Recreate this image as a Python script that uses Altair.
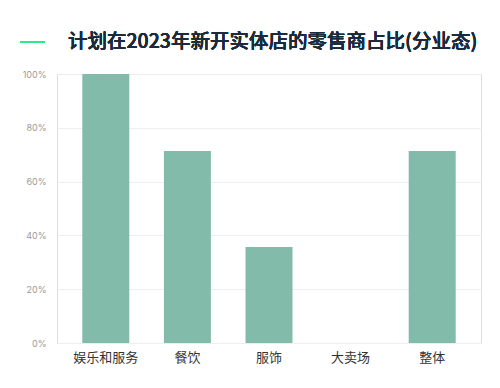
import altair as alt
import pandas as pd

categories = ["娱乐和服务", "餐饮", "服饰", "大卖场", "整体"]
values = [1.0, 0.714, 0.357, 0.0, 0.714]
title_text = "计划在2023年新开实体店的零售商占比(分业态)"

df = pd.DataFrame({"cat": categories, "val": values})

FONT = "Noto Sans CJK SC"

bars = alt.Chart(df).mark_bar(color="#83bbab").encode(
    x=alt.X("cat:N", sort=categories, title=None,
            scale=alt.Scale(paddingInner=0.424, paddingOuter=0.31),
            axis=alt.Axis(labelAngle=0, labelFont=FONT, labelFontSize=13,
                          labelColor="#333333", labelPadding=8, ticks=False,
                          domain=False, grid=False)),
    y=alt.Y("val:Q", title=None,
            scale=alt.Scale(domain=[0, 1], nice=False),
            axis=alt.Axis(format=".0%", values=[0, 0.2, 0.4, 0.6, 0.8, 1.0],
                          labelFont="Inter", labelFontSize=9, labelColor="#9a9a9a",
                          ticks=False, domain=False, labelPadding=11,
                          gridColor="#eeeeee", gridWidth=1)),
)

line = alt.Chart(df).mark_rule(color="#2ee88a", strokeWidth=2).encode(
    x=alt.value(-37), x2=alt.value(-12), y=alt.value(-32)
)

title = alt.Chart(df).mark_text(
    text=title_text, font=FONT, fontSize=19.5, fontWeight=500,
    color="#1b2b3c", align="left", baseline="middle"
).encode(x=alt.value(11), y=alt.value(-32))

chart = alt.layer(bars, line, title).properties(
    width=424, height=269,
    autosize=alt.AutoSizeParams(type="none"),
    padding={"left": 49, "top": 66, "right": 11, "bottom": 37},
).configure_view(stroke=None).configure(background="white")

chart.save("out.html", embed_options={"renderer": "svg", "actions": False})
